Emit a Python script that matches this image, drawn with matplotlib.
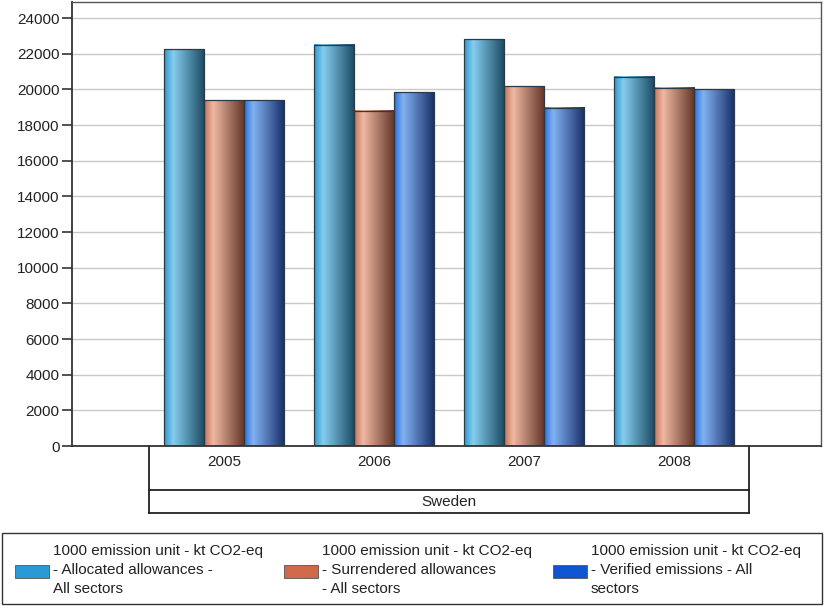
import matplotlib

matplotlib.use("Agg")
import matplotlib.pyplot as plt  # noqa: E402
import numpy as np  # noqa: E402
from matplotlib.colors import LinearSegmentedColormap  # noqa: E402
from matplotlib.lines import Line2D  # noqa: E402
from matplotlib.patches import Rectangle  # noqa: E402
from matplotlib.transforms import blended_transform_factory  # noqa: E402

plt.rcParams["font.family"] = ["Liberation Sans", "DejaVu Sans"]

years = ["2005", "2006", "2007", "2008"]
country = "Sweden"
allocated = [22240, 22490, 22810, 20720]
surrendered = [19380, 18810, 20170, 20100]
verified = [19380, 19850, 18970, 20000]
series_labels = [
    "1000 emission unit - kt CO2-eq\n- Allocated allowances -\nAll sectors",
    "1000 emission unit - kt CO2-eq\n- Surrendered allowances\n- All sectors",
    "1000 emission unit - kt CO2-eq\n- Verified emissions - All\nsectors",
]
y_ticks = list(range(0, 24001, 2000))

# (left edge, highlight, right edge) for the cylinder shading
shades = [
    ("#2f98cf", "#86cdef", "#1b4a62"),
    ("#c27559", "#efb9a3", "#633426"),
    ("#2f6fd8", "#82b2f2", "#182e68"),
]
swatch_colors = ["#2a9ad6", "#d0694a", "#0f55d2"]

fig = plt.figure(figsize=(8.24, 6.06), dpi=100)
ax = fig.add_axes([72 / 824, 1 - 446 / 606, 749 / 824, 444 / 606])

x = np.arange(len(years))
width = 0.267
grad = np.linspace(0, 1, 64).reshape(1, -1)
for k, values in enumerate([allocated, surrendered, verified]):
    cmap = LinearSegmentedColormap.from_list(
        f"s{k}", [(0, shades[k][0]), (0.22, shades[k][1]), (1, shades[k][2])]
    )
    bars = ax.bar(x + (k - 1) * width, values, width, facecolor="none",
                  edgecolor="#2b3a44", linewidth=0.9, zorder=3)
    for patch in bars:
        x0, y0 = patch.get_x(), patch.get_y()
        ax.imshow(grad, extent=[x0, x0 + patch.get_width(), y0, y0 + patch.get_height()],
                  aspect="auto", cmap=cmap, zorder=2, interpolation="bicubic")

ax.set_xlim(-1.013, 3.98)
ax.set_ylim(0, 24900)
ax.set_yticks(y_ticks)
ax.set_yticklabels([str(v) for v in y_ticks], fontsize=11, color="#222222")
ax.set_xticks([])
ax.grid(True, axis="y", color="#c8c8c8", linewidth=1.0, zorder=0)
ax.set_axisbelow(True)
ax.tick_params(axis="y", length=7, width=1.2, color="#333333", pad=2)
for side in ["left", "bottom"]:
    ax.spines[side].set_color("#333333")
    ax.spines[side].set_linewidth(1.3)
for side in ["top", "right"]:
    ax.spines[side].set_color("#555555")
    ax.spines[side].set_linewidth(1.0)

# category table under the axis
trans = blended_transform_factory(ax.transData, ax.transAxes)
lo, hi = -0.5, len(years) - 0.5
y_mid, y_bot = -0.099, -0.151
for xs, ys in [([lo, lo], [0, y_bot]), ([hi, hi], [0, y_bot]),
               ([lo, hi], [y_mid, y_mid]), ([lo, hi], [y_bot, y_bot])]:
    ax.add_artist(Line2D(xs, ys, transform=trans, color="#222222", linewidth=1.3, clip_on=False))
for i, year in enumerate(years):
    ax.text(i, -0.037, year, transform=trans, ha="center", va="center", fontsize=11, color="#222222")
ax.text((lo + hi) / 2, -0.126, country, transform=trans, ha="center", va="center",
        fontsize=11, color="#222222")

# legend box
fig.add_artist(Rectangle((2 / 824, 2 / 606), 820 / 824, 71 / 606, transform=fig.transFigure,
                         facecolor="white", edgecolor="#333333", linewidth=1.0))
for k, label in enumerate(series_labels):
    left = 15 + 269 * k
    fig.add_artist(Rectangle((left / 824, 1 - 578 / 606), 34 / 824, 13 / 606,
                             transform=fig.transFigure, facecolor=swatch_colors[k],
                             edgecolor="#555555", linewidth=0.6))
    fig.text((left + 38) / 824, 1 - 570 / 606, label, ha="left", va="center",
             fontsize=11, color="#222222", linespacing=1.45)

fig.savefig("out.png", dpi=100)
